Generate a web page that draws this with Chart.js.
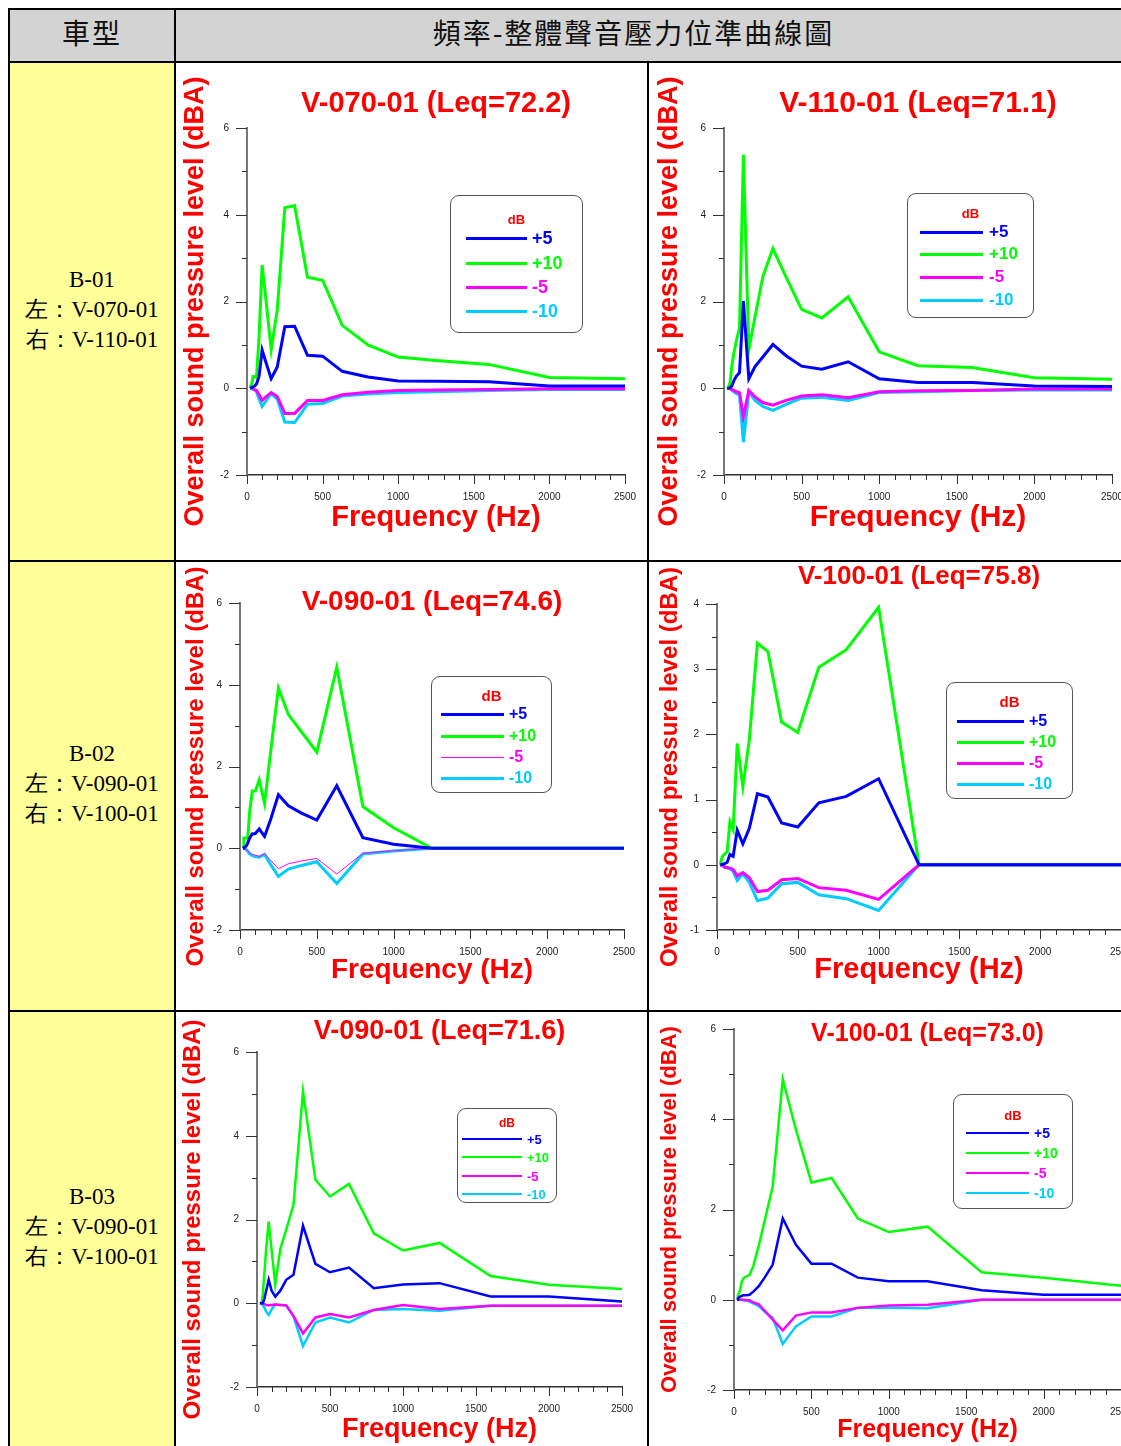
<!DOCTYPE html>
<html>
<head>
<meta charset="utf-8">
<script src="https://cdn.jsdelivr.net/npm/chart.js@4.4.1/dist/chart.umd.min.js"></script>
<style>
  html, body { margin: 0; padding: 0; background: #fff; overflow: hidden; }
  body { position: relative; width: 1121px; height: 1446px; font-family: Arial, "Liberation Sans", sans-serif; }
  .ln { position: absolute; background: #000; }
  .head { position: absolute; background: #d3d3d3; font-family: "Noto Sans CJK TC", sans-serif; font-weight: 400; font-size: 28px; color: #111; display: flex; align-items: center; justify-content: center; letter-spacing: 2px; padding-bottom: 8px; box-sizing: border-box; }
  .side { position: absolute; left: 10px; width: 164px; background: #ffff99; display: flex; align-items: center; justify-content: center; text-align: center; font-family: "Liberation Serif", "Times New Roman", serif; font-size: 23px; line-height: 30px; color: #000; padding-bottom: 4px; box-sizing: border-box; }
  .panel { position: absolute; overflow: hidden; background: #fff; }
  .panel canvas { position: absolute; left: 0; top: 0; }
  .lg { position: absolute; border: 1.5px solid #555; border-radius: 9px; background: #fff; box-sizing: border-box; }
  .lg span { position: absolute; font-weight: bold; white-space: nowrap; transform: translateY(-50%); }
  .lg i { position: absolute; display: block; }
</style>
</head>
<body>

<div class="head" style="left:10px;top:10px;width:164px;height:51px;">車型</div>
<div class="head" style="left:176px;top:10px;width:945px;height:51px;padding-right:30px;">頻率-整體聲音壓力位準曲線圖</div>

<div class="side" style="top:63px;height:497px;">B-01<br>左：V-070-01<br>右：V-110-01</div>
<div class="side" style="top:562px;height:448px;">B-02<br>左：V-090-01<br>右：V-100-01</div>
<div class="side" style="top:1012px;height:434px;">B-03<br>左：V-090-01<br>右：V-100-01</div>

<div class="panel" style="left:176px;top:63px;width:471px;height:497px;"><canvas id="c1"></canvas></div>
<div class="panel" style="left:649px;top:63px;width:472px;height:497px;"><canvas id="c2"></canvas></div>
<div class="panel" style="left:176px;top:562px;width:471px;height:448px;"><canvas id="c3"></canvas></div>
<div class="panel" style="left:649px;top:562px;width:472px;height:448px;"><canvas id="c4"></canvas></div>
<div class="panel" style="left:176px;top:1012px;width:471px;height:434px;"><canvas id="c5"></canvas></div>
<div class="panel" style="left:649px;top:1012px;width:472px;height:434px;"><canvas id="c6"></canvas></div>

<!-- table rules -->
<div class="ln" style="left:8px;top:8px;width:1113px;height:2px;"></div>
<div class="ln" style="left:8px;top:61px;width:1113px;height:2px;"></div>
<div class="ln" style="left:8px;top:560px;width:1113px;height:2px;"></div>
<div class="ln" style="left:8px;top:1010px;width:1113px;height:2px;"></div>
<div class="ln" style="left:8px;top:8px;width:2px;height:1438px;"></div>
<div class="ln" style="left:174px;top:8px;width:2px;height:1438px;"></div>
<div class="ln" style="left:647px;top:61px;width:2px;height:1385px;"></div>

<script>
// 1/3-octave band centre frequencies (Hz)
const FREQ = [20, 25, 31.5, 40, 50, 63, 80, 100, 125, 160, 200, 250, 315, 400, 500, 630, 800, 1000, 1250, 1600, 2000, 2500];
const SERIES = ['+5', '+10', '-5', '-10'];

// B-01 left : V-070-01
const b01L_p5  = [0, 0, 0.02, 0.03, 0.05, 0.1, 0.28, 0.88, 0.6, 0.22, 0.49, 1.42, 1.43, 0.76, 0.74, 0.39, 0.26, 0.17, 0.16, 0.15, 0.05, 0.05];
const b01L_p10 = [0, 0.05, 0.1, 0.27, 0.27, 0.25, 1.2, 2.84, 2.05, 0.89, 1.8, 4.16, 4.21, 2.56, 2.49, 1.45, 1.0, 0.72, 0.64, 0.55, 0.25, 0.22];
const b01L_m5  = [0, 0, 0, -0.02, -0.03, -0.05, -0.15, -0.28, -0.2, -0.1, -0.19, -0.58, -0.58, -0.28, -0.28, -0.15, -0.09, -0.05, -0.04, -0.03, -0.01, -0.01];
const b01L_m10 = [0, 0, 0, -0.02, -0.04, -0.08, -0.25, -0.42, -0.3, -0.12, -0.25, -0.78, -0.79, -0.37, -0.35, -0.18, -0.13, -0.1, -0.08, -0.05, -0.03, -0.03];

// B-01 right : V-110-01
const b01R_p5  = [0, 0, 0, 0.02, 0.05, 0.17, 0.28, 0.36, 2.01, 0.22, 0.5, 0.72, 1.01, 0.75, 0.51, 0.44, 0.61, 0.22, 0.13, 0.13, 0.05, 0.04];
const b01R_p10 = [0, 0.02, 0.05, 0.15, 0.5, 0.8, 1.1, 1.4, 5.38, 0.89, 1.65, 2.57, 3.22, 2.56, 1.82, 1.62, 2.11, 0.84, 0.52, 0.48, 0.24, 0.21];
const b01R_m5  = [0, 0, 0, -0.01, -0.03, -0.05, -0.08, -0.1, -0.66, -0.05, -0.2, -0.33, -0.39, -0.28, -0.18, -0.15, -0.22, -0.08, -0.06, -0.05, -0.02, -0.02];
const b01R_m10 = [0, 0, 0, -0.01, -0.04, -0.08, -0.12, -0.16, -1.24, -0.08, -0.28, -0.42, -0.51, -0.37, -0.23, -0.21, -0.28, -0.1, -0.08, -0.05, -0.04, -0.04];

// B-02 left : V-090-01
const b02L_p5  = [0, 0.02, 0.03, 0.05, 0.12, 0.25, 0.35, 0.36, 0.47, 0.29, 0.71, 1.31, 1.04, 0.86, 0.69, 1.53, 0.26, 0.1, 0, 0, 0, 0];
const b02L_p10 = [0, 0.25, 0.25, 0.25, 0.25, 0.9, 1.4, 1.4, 1.67, 1.09, 2.38, 3.92, 3.27, 2.85, 2.35, 4.43, 1.02, 0.5, 0, 0, 0, 0];
const b02L_m5  = [0, 0, 0, -0.03, -0.06, -0.12, -0.15, -0.17, -0.2, -0.13, -0.3, -0.5, -0.38, -0.31, -0.25, -0.63, -0.12, -0.06, 0, 0, 0, 0];
const b02L_m10 = [0, 0, 0, -0.03, -0.07, -0.14, -0.18, -0.2, -0.22, -0.15, -0.4, -0.69, -0.51, -0.42, -0.33, -0.86, -0.14, -0.07, 0, 0, 0, 0];

// B-02 right : V-100-01
const b02R_p5  = [0, 0, 0.01, 0.01, 0.02, 0.04, 0.16, 0.13, 0.53, 0.32, 0.56, 1.09, 1.04, 0.64, 0.58, 0.95, 1.05, 1.32, 0, 0, 0, 0];
const b02R_p10 = [0, 0.05, 0.12, 0.15, 0.17, 0.2, 0.66, 0.54, 1.86, 1.2, 1.92, 3.4, 3.27, 2.19, 2.03, 3.03, 3.3, 3.95, 0, 0, 0, 0];
const b02R_m5  = [0, 0, -0.01, -0.02, -0.04, -0.04, -0.05, -0.07, -0.17, -0.12, -0.2, -0.41, -0.39, -0.23, -0.21, -0.35, -0.39, -0.53, 0, 0, 0, 0];
const b02R_m10 = [0, 0, -0.01, -0.02, -0.04, -0.05, -0.06, -0.1, -0.24, -0.14, -0.27, -0.55, -0.51, -0.29, -0.27, -0.46, -0.52, -0.7, 0, 0, 0, 0];

// B-03 left : V-090-01
const b03L_p5  = [0, 0, 0, 0, 0.1, 0.3, 0.56, 0.3, 0.16, 0.3, 0.56, 0.68, 1.85, 0.94, 0.74, 0.85, 0.36, 0.45, 0.48, 0.16, 0.16, 0.04];
const b03L_p10 = [0, 0, 0, 0.2, 0.7, 1.3, 1.95, 1.28, 0.44, 1.3, 1.76, 2.35, 5.06, 2.95, 2.55, 2.85, 1.67, 1.26, 1.44, 0.65, 0.44, 0.34];
const b03L_m5  = [0, 0, 0, 0, -0.02, -0.04, -0.05, -0.04, -0.03, -0.04, -0.05, -0.3, -0.72, -0.34, -0.26, -0.34, -0.16, -0.04, -0.14, -0.06, -0.06, -0.06];
const b03L_m10 = [0, 0, 0, -0.05, -0.1, -0.2, -0.28, -0.15, -0.03, -0.04, -0.05, -0.32, -1.02, -0.46, -0.34, -0.46, -0.16, -0.14, -0.18, -0.06, -0.06, -0.06];

// B-03 right : V-100-01
const b03R_p5  = [0, 0.03, 0.05, 0.07, 0.09, 0.1, 0.1, 0.11, 0.18, 0.3, 0.5, 0.78, 1.8, 1.22, 0.8, 0.8, 0.49, 0.41, 0.41, 0.21, 0.11, 0.11];
const b03R_p10 = [0, 0.1, 0.15, 0.22, 0.4, 0.48, 0.52, 0.55, 0.75, 1.2, 1.78, 2.51, 4.89, 3.77, 2.6, 2.7, 1.8, 1.5, 1.62, 0.61, 0.49, 0.31];
const b03R_m5  = [0, 0, 0, 0, 0, 0, -0.01, -0.01, -0.06, -0.1, -0.25, -0.44, -0.68, -0.35, -0.28, -0.28, -0.18, -0.13, -0.11, 0, 0, 0];
const b03R_m10 = [0, 0, 0, 0, 0, -0.01, -0.02, -0.04, -0.08, -0.14, -0.27, -0.4, -0.98, -0.59, -0.37, -0.37, -0.18, -0.18, -0.19, 0, 0, 0];

const COLORS = ['#0000ff', '#00ff00', '#ff00ff', '#00ccff'];
const RED = '#ff0000';

// layout of each panel, in px relative to its cell
const panels = [
  { id: 'c1', w: 471, h: 497, yw: 71, padR: 22, plotT: 65, xh: 85,
    title: 'V-070-01 (Leq=72.2)', tSize: 29, tY: 41, ytX: 20, ytSize: 27, xtY: 455, xtSize: 29,
    yMin: -2, yMax: 6, yStep: 1, yLab: 2, lw: [3, 3, 3, 3],
    series: [b01L_p5, b01L_p10, b01L_m5, b01L_m10],
    lg: { x: 450, y: 195, w: 133, h: 138, dbY: 218, dbSize: 13, l1: 465, l2: 526, lx: 531, rows: [237, 262, 286, 310], fs: 18, lw: [3, 3, 3, 3] } },
  { id: 'c2', w: 490, h: 497, yw: 75, padR: 27, plotT: 65, xh: 85,
    title: 'V-110-01 (Leq=71.1)', tSize: 30, tY: 41, ytX: 21, ytSize: 27, xtY: 455, xtSize: 30,
    yMin: -2, yMax: 6, yStep: 1, yLab: 2, lw: [3, 3, 3, 3],
    series: [b01R_p5, b01R_p10, b01R_m5, b01R_m10],
    lg: { x: 907, y: 193, w: 127, h: 125, dbY: 212, dbSize: 13, l1: 919, l2: 982, lx: 988, rows: [231, 253, 276, 299], fs: 17, lw: [3, 3, 3, 3] } },
  { id: 'c3', w: 471, h: 448, yw: 64, padR: 23, plotT: 41, xh: 80,
    title: 'V-090-01 (Leq=74.6)', tSize: 28, tY: 40, ytX: 20, ytSize: 24, xtY: 408, xtSize: 28,
    yMin: -2, yMax: 6, yStep: 1, yLab: 2, lw: [3, 3, 1, 3],
    series: [b02L_p5, b02L_p10, b02L_m5, b02L_m10],
    lg: { x: 431, y: 676, w: 121, h: 117, dbY: 694, dbSize: 15, l1: 440, l2: 503, lx: 508, rows: [713, 735, 756, 777], fs: 16, lw: [3, 3, 1, 3] } },
  { id: 'c4', w: 490, h: 448, yw: 68, padR: 18, plotT: 42, xh: 80,
    title: 'V-100-01 (Leq=75.8)', tSize: 26, tY: 15, ytX: 21, ytSize: 24, xtY: 408, xtSize: 29,
    yMin: -1, yMax: 4, yStep: 0.5, yLab: 1, lw: [3, 3, 3, 3],
    series: [b02R_p5, b02R_p10, b02R_m5, b02R_m10],
    lg: { x: 946, y: 682, w: 127, h: 117, dbY: 700, dbSize: 15, l1: 956, l2: 1023, lx: 1028, rows: [720, 741, 762, 783], fs: 16, lw: [3, 3, 3, 3] } },
  { id: 'c5', w: 471, h: 434, yw: 81, padR: 25, plotT: 40, xh: 59,
    title: 'V-090-01 (Leq=71.6)', tSize: 27, tY: 20, ytX: 17, ytSize: 24, xtY: 418, xtSize: 27,
    yMin: -2, yMax: 6, yStep: 1, yLab: 2, lw: [2.5, 2.5, 2.5, 2.5],
    series: [b03L_p5, b03L_p10, b03L_m5, b03L_m10],
    lg: { x: 457, y: 1108, w: 100, h: 95, dbY: 1122, dbSize: 12, l1: 461, l2: 521, lx: 526, rows: [1138, 1156, 1175, 1193], fs: 13, lw: [2.5, 2.5, 2.5, 2.5] } },
  { id: 'c6', w: 490, h: 434, yw: 85, padR: 18, plotT: 17, xh: 56,
    title: 'V-100-01 (Leq=73.0)', tSize: 25, tY: 22, ytX: 21, ytSize: 22, xtY: 418, xtSize: 25,
    yMin: -2, yMax: 6, yStep: 1, yLab: 2, lw: [2.5, 2.5, 2.5, 2.5],
    series: [b03R_p5, b03R_p10, b03R_m5, b03R_m10],
    lg: { x: 953, y: 1094, w: 120, h: 115, dbY: 1114, dbSize: 13, l1: 965, l2: 1028, lx: 1033, rows: [1132, 1152, 1172, 1192], fs: 14, lw: [2.5, 2.5, 2.5, 2.5] } },
];

/* major / minor tick marks drawn from the scales */
const tickMarks = {
  id: 'tickMarks',
  afterDraw(chart) {
    const { ctx, chartArea: a } = chart;
    const xs = chart.scales.x, ys = chart.scales.y;
    ctx.save();
    ctx.strokeStyle = '#333';
    ctx.lineWidth = 1;
    ys.ticks.forEach((t) => {
      const py = Math.round(ys.getPixelForValue(t.value)) + 0.5;
      const len = t.label !== '' ? 11 : 5;
      ctx.beginPath(); ctx.moveTo(a.left - len, py); ctx.lineTo(a.left, py); ctx.stroke();
    });
    xs.ticks.forEach((t) => {
      const px = Math.round(xs.getPixelForValue(t.value)) + 0.5;
      const len = t.label !== '' ? 9 : 5;
      ctx.beginPath(); ctx.moveTo(px, a.bottom); ctx.lineTo(px, a.bottom + len); ctx.stroke();
    });
    ctx.restore();
  },
};

function drawPanel(p) {
  const cv = document.getElementById(p.id);
  cv.width = p.w; cv.height = p.h;
  cv.style.width = p.w + 'px'; cv.style.height = p.h + 'px';
  const tLine = p.tSize * 1.2;
  const tPadTop = p.tY - tLine / 2;
  const tPadBot = p.plotT - tPadTop - tLine;
  const ytLine = p.ytSize * 1.2;
  const xtLine = p.xtSize * 1.2;
  const mk = (vals) => FREQ.map((f, i) => ({ x: f, y: vals[i] }));

  new Chart(cv, {
    type: 'line',
    data: {
      datasets: SERIES.map((name, k) => ({
        label: name,
        data: mk(p.series[k]),
        borderColor: COLORS[k],
        backgroundColor: COLORS[k],
        borderWidth: p.lw[k],
        pointRadius: 0,
        tension: 0,
        fill: false,
        order: k,
      })),
    },
    options: {
      responsive: false,
      animation: false,
      layout: { padding: { left: 0, right: p.padR, top: 0, bottom: 0 } },
      plugins: {
        legend: { display: false },
        tooltip: { enabled: false },
        title: {
          display: true, text: p.title, color: RED, fullSize: false,
          font: { family: 'Arial, "Liberation Sans"', size: p.tSize, weight: 'bold' },
          padding: { top: tPadTop, bottom: tPadBot },
        },
      },
      scales: {
        x: {
          type: 'linear', min: 0, max: 2500,
          afterFit: (s) => { s.height = p.xh; s.paddingLeft = 0; s.paddingRight = 0; },
          ticks: {
            stepSize: 100, autoSkip: false, maxRotation: 0,
            callback: (v) => (v % 500 === 0 ? String(v) : ''),
            padding: 16, color: '#222', font: { family: 'Arial', size: 10 },
          },
          grid: { display: false, drawTicks: false },
          border: { color: '#333', width: 1.5 },
          title: {
            display: true, text: 'Frequency (Hz)', color: RED,
            font: { family: 'Arial, "Liberation Sans"', size: p.xtSize, weight: 'bold' },
            padding: { top: 0, bottom: (p.h - p.xtY) - xtLine / 2 },
          },
        },
        y: {
          min: p.yMin, max: p.yMax,
          afterFit: (s) => { s.width = p.yw; s.paddingTop = 0; s.paddingBottom = 0; },
          ticks: {
            stepSize: p.yStep, autoSkip: false,
            callback: (v) => (Math.abs(v / p.yLab - Math.round(v / p.yLab)) < 1e-6 ? String(v) : ''),
            padding: 18, color: '#222', font: { family: 'Arial', size: 10 },
          },
          grid: { display: false, drawTicks: false },
          border: { color: '#777', width: 2 },
          title: {
            display: true, text: 'Overall sound pressure level (dBA)', color: RED,
            font: { family: 'Arial, "Liberation Sans"', size: p.ytSize, weight: 'bold' },
            padding: { top: p.ytX - ytLine / 2, bottom: 0 },
          },
        },
      },
    },
    plugins: [tickMarks],
  });

  // legend box (absolute page coordinates)
  const g = p.lg;
  const box = document.createElement('div');
  box.className = 'lg';
  box.style.cssText = `left:${g.x}px;top:${g.y}px;width:${g.w}px;height:${g.h}px;`;
  const db = document.createElement('span');
  db.textContent = 'dB';
  db.style.cssText = `left:0;width:100%;text-align:center;top:${g.dbY - g.y}px;color:${RED};font-size:${g.dbSize}px;`;
  box.appendChild(db);
  SERIES.forEach((name, k) => {
    const line = document.createElement('i');
    line.style.cssText = `left:${g.l1 - g.x}px;width:${g.l2 - g.l1}px;top:${g.rows[k] - g.y - g.lw[k] / 2}px;height:${g.lw[k]}px;background:${COLORS[k]};`;
    const lab = document.createElement('span');
    lab.textContent = name;
    lab.style.cssText = `left:${g.lx - g.x}px;top:${g.rows[k] - g.y}px;color:${COLORS[k]};font-size:${g.fs}px;`;
    box.appendChild(line);
    box.appendChild(lab);
  });
  document.body.appendChild(box);
}

panels.forEach(drawPanel);
</script>
</body>
</html>
